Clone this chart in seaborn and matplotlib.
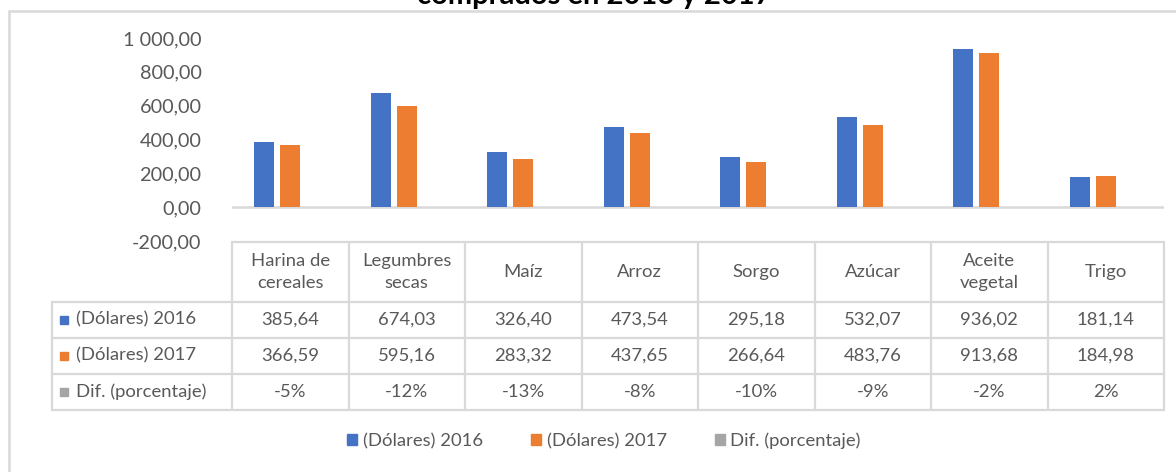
import numpy as np
import pandas as pd
import matplotlib
matplotlib.use("Agg")
import matplotlib.pyplot as plt
import seaborn as sns
from matplotlib.patches import Rectangle
from matplotlib.lines import Line2D
from matplotlib.transforms import blended_transform_factory

# data
categories = ["Harina de\ncereales", "Legumbres\nsecas", "Maíz", "Arroz", "Sorgo",
              "Azúcar", "Aceite\nvegetal", "Trigo"]
series = ["(Dólares) 2016", "(Dólares) 2017", "Dif. (porcentaje)"]
usd_2016 = [385.64, 674.03, 326.40, 473.54, 295.18, 532.07, 936.02, 181.14]
usd_2017 = [366.59, 595.16, 283.32, 437.65, 266.64, 483.76, 913.68, 184.98]
dif_pct = [-0.05, -0.12, -0.13, -0.08, -0.10, -0.09, -0.02, 0.02]
yticks = [-200, 0, 200, 400, 600, 800, 1000]

colors = ["#4472C4", "#ED7D31", "#A5A5A5"]
txt_col = "#595959"
grid_col = "#D9D9D9"

df = pd.DataFrame({
    "producto": categories * 3,
    "serie": np.repeat(series, len(categories)),
    "valor": usd_2016 + usd_2017 + dif_pct,
})

sns.set_theme(style="white")
plt.rcParams["font.family"] = ["Lato", "DejaVu Sans"]

W, H = 1176, 472
fig = plt.figure(figsize=(W / 100, H / 100), dpi=100)
ax = fig.add_axes([232 / W, 1 - 241 / H, (1164 - 232) / W, (241 - 38) / H])

sns.barplot(data=df, x="producto", y="valor", hue="serie", palette=colors,
            saturation=1, width=0.67, gap=0.23, errorbar=None, linewidth=0, ax=ax)
ax.get_legend().remove()

ax.set_xlim(-0.5, len(categories) - 0.5)
ax.set_ylim(-200, 1000)
ax.set_yticks(yticks)
ax.set_yticklabels([f"{v:,.2f}".replace(",", " ").replace(".", ",") for v in yticks])
ax.tick_params(axis="y", length=0, pad=22, labelsize=14.3, labelcolor=txt_col)
ax.set_xticks([])
ax.set_xlabel("")
ax.set_ylabel("")
for s in ax.spines.values():
    s.set_visible(False)
ax.axhline(0, color=grid_col, lw=1.8, zorder=0)

# data table under the plot
tr = blended_transform_factory(ax.transData, fig.transFigure)
hdr_top = 1 - 242 / H
edges_y = [1 - 302 / H, 1 - 337.5 / H, 1 - 373.5 / H, 1 - 410 / H]
lab_left = -0.5 - 180 / 116.5
x_edges = np.arange(len(categories) + 1) - 0.5
fs = 13.3

def hline(x0, x1, y):
    fig.add_artist(Line2D([x0, x1], [y, y], transform=tr, color=grid_col, lw=1.6))

def vline(x, y0, y1):
    fig.add_artist(Line2D([x, x], [y0, y1], transform=tr, color=grid_col, lw=1.6))

hline(x_edges[0], x_edges[-1], hdr_top)
for y in edges_y:
    hline(lab_left, x_edges[-1], y)
for x in x_edges:
    vline(x, hdr_top, edges_y[-1])
vline(lab_left, edges_y[0], edges_y[-1])

for i, c in enumerate(categories):
    ax.text(i, (hdr_top + edges_y[0]) / 2, c, transform=tr, ha="center", va="center",
            fontsize=fs, color=txt_col, linespacing=1.45)

rows = [
    [f"{v:.2f}".replace(".", ",") for v in usd_2016],
    [f"{v:.2f}".replace(".", ",") for v in usd_2017],
    [f"{round(v * 100):.0f}%" for v in dif_pct],
]
for r, (name, vals) in enumerate(zip(series, rows)):
    yc = (edges_y[r] + edges_y[r + 1]) / 2
    fig.add_artist(Line2D([64 / W], [yc], marker="s", markersize=6, color=colors[r],
                          transform=fig.transFigure, lw=0))
    fig.text(76 / W, yc, name, ha="left", va="center", fontsize=fs, color=txt_col)
    for i, t in enumerate(vals):
        ax.text(i, yc, t, transform=tr, ha="center", va="center",
                fontsize=fs, color=txt_col)

# legend
handles = [Rectangle((0, 0), 1, 1, color=c) for c in colors]
fig.legend(handles, series, loc="center", bbox_to_anchor=(604 / W, 1 - 441 / H),
           ncol=3, frameon=False, fontsize=fs, labelcolor=txt_col,
           handlelength=0.55, handleheight=0.55, handletextpad=0.3, columnspacing=2.6)

# chart frame and clipped title line
fig.add_artist(Rectangle((9 / W, -0.1), 1.2, 1.1 - 11 / H, transform=fig.transFigure,
                         fill=False, edgecolor=grid_col, lw=1.8))
fig.text(594 / W, 1 - 4 / H, "comprados en 2016 y 2017", ha="center", va="baseline",
         fontsize=21, fontweight="bold", color="black")

fig.savefig("out.png", dpi=100, facecolor="white")
